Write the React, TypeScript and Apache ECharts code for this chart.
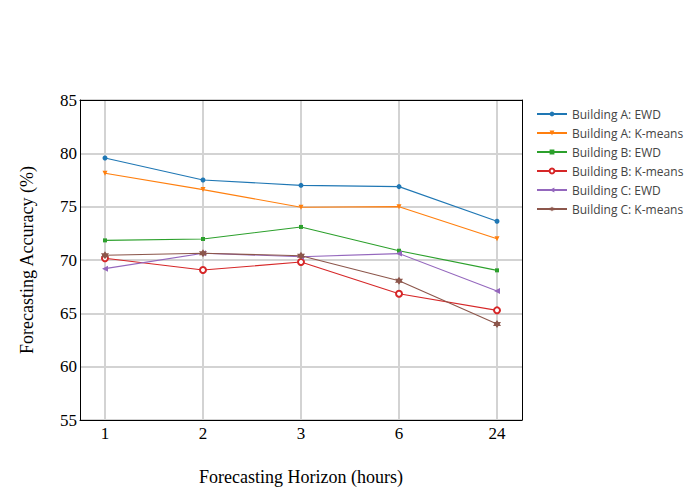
import React, { useEffect, useRef } from "react";
import * as echarts from "echarts";

const horizons = ["1", "2", "3", "6", "24"];
const seriesNames = [
  "Building A: EWD",
  "Building A: K-means",
  "Building B: EWD",
  "Building B: K-means",
  "Building C: EWD",
  "Building C: K-means",
];
const buildingAEwd = [79.56, 77.5, 77.0, 76.88, 73.63];
const buildingAKmeans = [78.13, 76.6, 74.94, 75.0, 72.0];
const buildingBEwd = [71.84, 71.97, 73.1, 70.87, 69.03];
const buildingBKmeans = [70.16, 69.06, 69.81, 66.84, 65.28];
const buildingCEwd = [69.19, 70.63, 70.31, 70.6, 67.1];
const buildingCKmeans = [70.44, 70.63, 70.4, 68.06, 64.0];
const yTicks = [55, 60, 65, 70, 75, 80, 85];

const colors = ["#1f77b4", "#ff7f0e", "#2ca02c", "#d62728", "#9467bd", "#8c564b"];

const starPath =
  "path://M0,-10 L2.9,-5 L8.66,-5 L5.8,0 L8.66,5 L2.9,5 L0,10 L-2.9,5 L-8.66,5 L-5.8,0 L-8.66,-5 L-2.9,-5 Z";

export default function App() {
  const ref = useRef<HTMLDivElement>(null);
  useEffect(() => {
    if (!ref.current) return;
    const chart = echarts.init(ref.current, null, { renderer: "svg" });
    const allValues = [
      buildingAEwd,
      buildingAKmeans,
      buildingBEwd,
      buildingBKmeans,
      buildingCEwd,
      buildingCKmeans,
    ];
    const symbols: any[] = [
      { symbol: "circle", symbolSize: 5 },
      { symbol: "triangle", symbolSize: 5, symbolRotate: 180 },
      { symbol: "rect", symbolSize: 4 },
      { symbol: "emptyCircle", symbolSize: 6 },
      { symbol: "triangle", symbolSize: 6, symbolRotate: 90 },
      { symbol: starPath, symbolSize: 8 },
    ];
    const series = allValues.map((vals, i) => ({
      name: seriesNames[i],
      type: "line",
      data: vals.map((v, j) => [j, v]),
      ...symbols[i],
      showSymbol: true,
      lineStyle: { color: colors[i], width: 1.1 },
      itemStyle: {
        color: colors[i],
        borderColor: colors[i],
        borderWidth: i === 3 ? 1 : 0,
      },
      clip: false,
      z: 3,
    }));

    const serif = "'Liberation Serif', 'Times New Roman', serif";
    const borderAxis = {
      show: true,
      axisLine: { show: true, onZero: false, lineStyle: { color: "#000", width: 1 } },
      axisTick: { show: false },
      axisLabel: { show: false },
      splitLine: { show: false },
    };
    chart.setOption({
      animation: false,
      color: colors,
      grid: {
        left: 80,
        top: 100,
        width: 442,
        height: 320,
        show: false,
        containLabel: false,
      },
      legend: {
        orient: "vertical",
        left: 536,
        top: 108,
        padding: 0,
        itemWidth: 30,
        itemHeight: 6,
        itemGap: 7,
        textStyle: {
          fontFamily: "'Open Sans', sans-serif",
          fontSize: 12,
          lineHeight: 12,
          color: "#444",
        },
        data: seriesNames,
      },
      xAxis: [
        {
          type: "value",
          min: -0.255,
          max: 4.255,
          name: "Forecasting Horizon (hours)",
          nameLocation: "middle",
          nameGap: 48,
          nameTextStyle: { fontFamily: serif, fontSize: 18, color: "#000" },
          axisLine: { show: true, onZero: false, lineStyle: { color: "#000", width: 1 } },
          axisTick: { show: false, customValues: [0, 1, 2, 3, 4] },
          axisLabel: {
            customValues: [0, 1, 2, 3, 4],
            formatter: (v: number) => horizons[Math.round(v)] ?? "",
            fontFamily: serif,
            fontSize: 17,
            color: "#000",
            margin: 5,
          },
          splitLine: { show: true, lineStyle: { color: "#d3d3d3", width: 2 } },
        },
        { type: "value", position: "top", min: -0.255, max: 4.255, ...borderAxis },
      ],
      yAxis: [
        {
          type: "value",
          min: yTicks[0],
          max: yTicks[yTicks.length - 1],
          interval: 5,
          name: "Forecasting Accuracy (%)",
          nameLocation: "middle",
          nameGap: 44,
          nameTextStyle: { fontFamily: serif, fontSize: 18, color: "#000" },
          axisLine: { show: true, onZero: false, lineStyle: { color: "#000", width: 1 } },
          axisTick: { show: false },
          axisLabel: {
            fontFamily: serif,
            fontSize: 17,
            color: "#000",
            margin: 3,
          },
          splitLine: { show: true, lineStyle: { color: "#d3d3d3", width: 2 } },
        },
        { type: "value", position: "right", min: 55, max: 85, ...borderAxis },
      ],
      series,
    });
    return () => chart.dispose();
  }, []);
  return (
    <div
      ref={ref}
      style={{ position: "absolute", left: 0, top: 0, width: 700, height: 500, background: "#fff" }}
    />
  );
}
